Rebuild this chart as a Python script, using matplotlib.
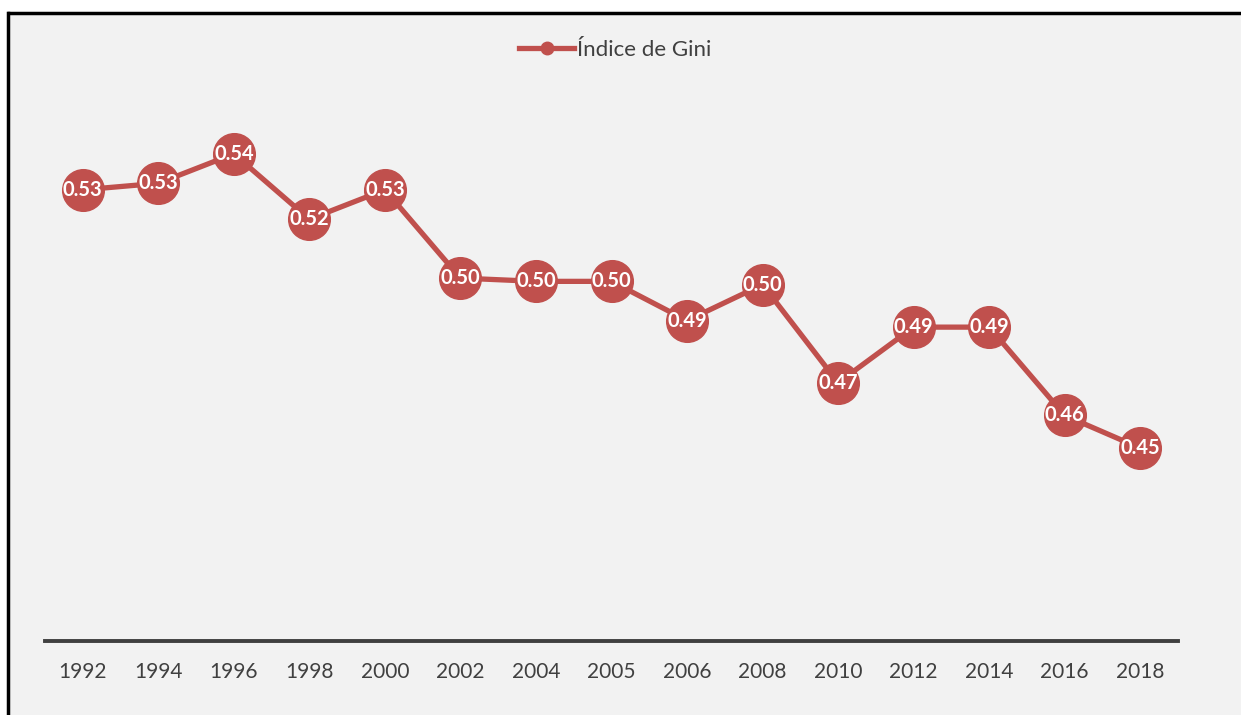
import matplotlib.pyplot as plt
from matplotlib.lines import Line2D

# Gini index by survey year
years = ["1992", "1994", "1996", "1998", "2000", "2002", "2004", "2005",
         "2006", "2008", "2010", "2012", "2014", "2016", "2018"]
gini = [0.529, 0.531, 0.540, 0.520, 0.529, 0.502, 0.501, 0.501,
        0.489, 0.500, 0.470, 0.487, 0.487, 0.460, 0.450]

red = "#c0504d"
grey = "#404040"
W, H = 1241, 715
font = "Lato"

fig = plt.figure(figsize=(W / 100, H / 100), dpi=100, facecolor="white")

# chart area background, black frame only on top and left
x0, y0 = 7.5 / W, 1 - 12.5 / H
fig.patches.append(plt.Rectangle((x0, 0), 1 - x0, y0, transform=fig.transFigure,
                                 facecolor="#f2f2f2", edgecolor="none", zorder=-10))
fig.lines.append(Line2D([x0, x0], [0, y0], transform=fig.transFigure, color="black", lw=2.5))
fig.lines.append(Line2D([x0 - 1 / W, 1], [y0, y0], transform=fig.transFigure, color="black",
                        lw=2.5, solid_capstyle="butt"))

ax = fig.add_axes([45 / W, (H - 641) / H, (1178 - 45) / W, (641 - 95) / H])
ax.set_facecolor("none")

x = list(range(len(years)))
ax.plot(x, gini, color=red, lw=3.8, marker="o", ms=30, mfc=red, mec=red,
        label="Índice de Gini", zorder=3)
for xi, v in zip(x, gini):
    ax.text(xi, v, f"{v:.2f}", color="white", ha="center", va="center",
            fontsize=14.5, fontweight="bold", family=font, zorder=4)

ax.set_xlim(-0.5, len(years) - 0.5)
ax.set_ylim(0.391, 0.558)
ax.set_xticks(x)
ax.set_xticklabels(years, family=font, fontsize=15, color=grey)
ax.tick_params(axis="x", length=0, pad=15)
ax.set_yticks([])
for s in ["top", "right", "left"]:
    ax.spines[s].set_visible(False)
ax.spines["bottom"].set_color(grey)
ax.spines["bottom"].set_linewidth(2.8)

leg = fig.legend(loc="center", bbox_to_anchor=(615 / W, 1 - 50 / H), frameon=False,
                 handlelength=2.5, handletextpad=0.1, markerscale=0.3,
                 prop={"family": font, "size": 16})
for t in leg.get_texts():
    t.set_color(grey)

fig.savefig("out.png", dpi=100, facecolor=fig.get_facecolor())
